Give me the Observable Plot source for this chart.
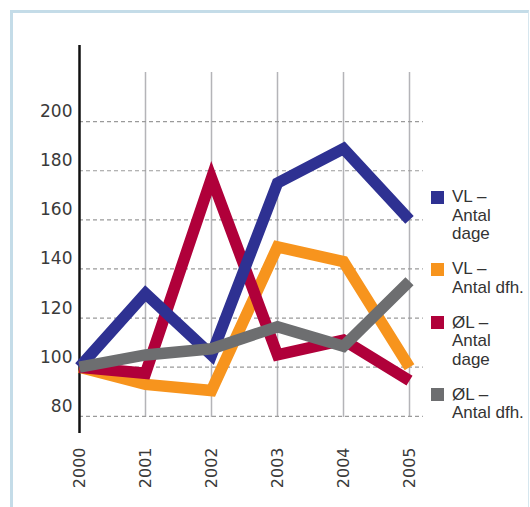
<!DOCTYPE html>
<html>
<head>
<meta charset="utf-8">
<script src="https://cdn.jsdelivr.net/npm/d3@7"></script>
<script src="https://cdn.jsdelivr.net/npm/@observablehq/plot@0.6"></script>
<style>
  html, body { margin: 0; padding: 0; background: #fff; overflow: hidden; }
  #wrap { position: relative; width: 530px; height: 507px; overflow: hidden; }
  #frame {
    position: absolute; left: 10px; top: 10px; width: 515px; height: 600px;
    border-left: 3px solid #c4dce8; border-top: 3px solid #c4dce8; border-right: 1px solid #d6e6ee;
  }
  #chart { position: absolute; left: 0; top: 0; }
  #legend {
    position: absolute; left: 431px; top: 188px;
    display: flex; flex-direction: column; gap: 16.5px;
    font-family: "Liberation Sans", Arial, sans-serif; font-size: 17px; line-height: 18.5px; color: #333;
  }
  .item { display: flex; align-items: flex-start; }
  .sw { width: 13px; height: 13px; flex: none; margin-top: 2.5px; margin-right: 8px; }
</style>
</head>
<body>
<div id="wrap">
  <div id="frame"></div>
  <div id="chart"></div>
  <div id="legend"></div>
</div>
<script>
// Index values (2000 = 100)
const years = [2000, 2001, 2002, 2003, 2004, 2005];
const vlDage = [100, 130, 105, 175, 189, 160];
const vlDfh  = [100, 93, 90.5, 149, 143, 100];
const olDage = [100, 97.5, 177, 105, 111, 94.5];
const olDfh  = [100, 105, 107.5, 116.5, 108.5, 135];
const yTicks = [80, 100, 120, 140, 160, 180, 200];

const seriesNames = ["VL –\nAntal\ndage", "VL –\nAntal dfh.", "ØL –\nAntal\ndage", "ØL –\nAntal dfh."];
const seriesColors = ["#2e3192", "#f7941d", "#b0003a", "#6d6e70"];
const seriesValues = [vlDage, vlDfh, olDage, olDfh];

const toRows = (vals) => years.map((year, i) => ({year, value: vals[i]}));

// drawing order: orange, crimson, navy, gray on top
const drawOrder = [1, 2, 0, 3];

const lineMarks = drawOrder.map(k => Plot.line(toRows(seriesValues[k]), {
  x: "year", y: "value",
  stroke: seriesColors[k], strokeWidth: 11.5,
  strokeLinejoin: "miter", strokeLinecap: "butt", strokeMiterlimit: 10
}));

const chart = Plot.plot({
  width: 530,
  height: 507,
  marginLeft: 79,
  marginRight: 121,
  marginTop: 45,
  marginBottom: 74,
  x: {domain: [2000, 2005], axis: null},
  y: {domain: [73, 231]},
  style: {fontFamily: "DejaVu Sans, sans-serif", fontSize: "17px", color: "#3a3a3a", background: "transparent"},
  marks: [
    // vertical grid
    Plot.ruleX(years.slice(1), {y1: 79.5, y2: 220, stroke: "#b4b4b8", strokeWidth: 1.5}),
    // dashed horizontal grid
    Plot.ruleY(yTicks, {x1: 2000, x2: 2005.21, stroke: "#9a9a9a", strokeWidth: 1.2, strokeDasharray: "4,3"}),
    // y axis line
    Plot.ruleX([2000], {y1: 73, y2: 231, stroke: "#111", strokeWidth: 2.5}),
    Plot.axisY({ticks: yTicks, tickSize: 0, tickPadding: 7, dy: -10, fontSize: 17, label: null}),
    // rotated year labels
    Plot.text(years, {
      x: d => d, frameAnchor: "bottom", dy: 14,
      text: d => String(d), rotate: -90, textAnchor: "end", lineAnchor: "middle",
      fontSize: 16, fill: "#3a3a3a"
    }),
    ...lineMarks
  ]
});
document.getElementById("chart").appendChild(chart);

// legend
const legend = document.getElementById("legend");
seriesNames.forEach((name, k) => {
  const item = document.createElement("div");
  item.className = "item";
  const sw = document.createElement("div");
  sw.className = "sw";
  sw.style.background = seriesColors[k];
  const label = document.createElement("div");
  label.innerHTML = name.split("\n").join("<br>");
  item.appendChild(sw);
  item.appendChild(label);
  legend.appendChild(item);
});
</script>
</body>
</html>
